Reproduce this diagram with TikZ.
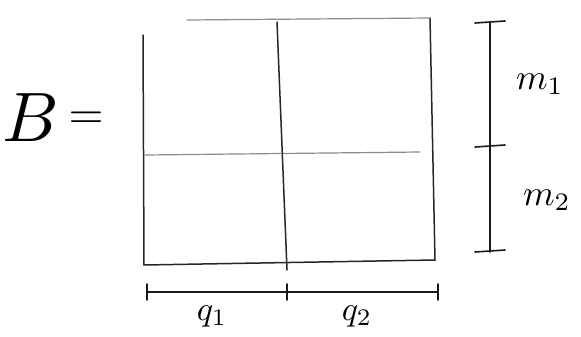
\documentclass[tikz,border=0pt]{standalone}
\usepackage{graphicx}
\usepackage{tikz}
\usetikzlibrary{positioning,calc}
\newcommand{\sketchsym}[2]{\scalebox{#1}{$#2$}}

\begin{document}
\begin{tikzpicture}[
  x=1pt, y=-1pt,
  gridline/.style={line width=1.5pt, black!85, line cap=round},
  softline/.style={line width=1.2pt, black!45, line cap=round},
  dimline/.style={line width=1.6pt, black!90, line cap=round},
  lbl/.style={inner sep=0pt}
]
\useasboundingbox (0,0) rectangle (581,337);

% corners of the block matrix
\coordinate (TL) at (143,35);
\coordinate (TLt) at (187,20);
\coordinate (TR) at (430,18);
\coordinate (BL) at (144,265);
\coordinate (BR) at (435,260);
\coordinate (ML) at (145,155);
\coordinate (MR) at (420,152);
\coordinate (MT) at (277,22);
\coordinate (MB) at (287,270);

\draw[gridline] (TL) -- (BL) -- (BR) -- (TR);
\draw[softline] (TLt) -- (TR);
\draw[softline] (ML) -- (MR);
\draw[gridline] (MT) -- (MB);

% row sizes
\coordinate (r0) at (490,23);
\coordinate (r1) at (490,147);
\coordinate (r2) at (490,252);
\draw[dimline] (r0) -- (r1) -- (r2);
\foreach \p in {r0,r1,r2} {
  \draw[dimline] ($(\p)+(-15,0)$) -- ($(\p)+(15,-2)$);
}

% column sizes
\coordinate (c0) at (147,292);
\coordinate (c1) at (287,292);
\coordinate (c2) at (438,292);
\draw[dimline] (c0) -- (c1) -- (c2);
\foreach \p in {c0,c1,c2} {
  \draw[dimline] ($(\p)+(0,-8)$) -- ($(\p)+(0,8)$);
}

\node[lbl] (m1) at (540,84) {\sketchsym{3.6}{m_1}};
\node[lbl] (m2) at (547,200) {\sketchsym{3.6}{m_2}};
\node[lbl] (q1) at (212,316) {\sketchsym{3.4}{q_1}};
\node[lbl] (q2) at (357,316) {\sketchsym{3.4}{q_2}};

\node[lbl] (B) at (31,118) {\sketchsym{7}{B}};
\node[lbl] (eq) at (86,120) {\sketchsym{4.5}{=}};
\end{tikzpicture}
\end{document}
